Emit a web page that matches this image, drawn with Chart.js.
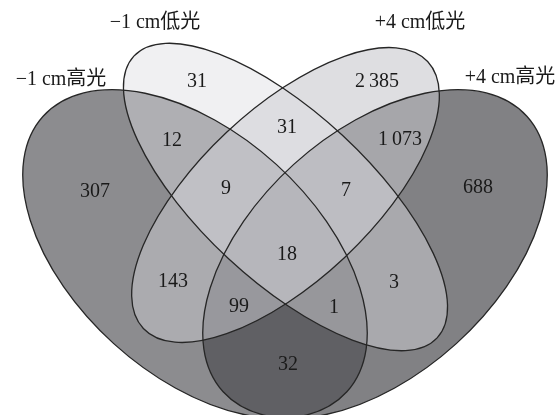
<!DOCTYPE html>
<html>
<head>
<meta charset="utf-8">
<script src="https://cdn.jsdelivr.net/npm/chart.js@4.4.1/dist/chart.umd.min.js"></script>
<style>
  html, body { margin: 0; padding: 0; background: #fff; }
  #venn { display: block; }
</style>
</head>
<body>
<canvas id="venn" width="559" height="415"></canvas>
<script>
// Set names, one per ellipse (A, B, C, D)
const SET_NAMES = ['−1 cm高光', '−1 cm低光', '+4 cm低光', '+4 cm高光'];

// Region counts; key = which sets the region is inside
const REGION_KEYS = ['A', 'B', 'C', 'D', 'AB', 'BC', 'CD', 'ABC', 'BCD', 'ABCD', 'AC', 'BD', 'ACD', 'ABD', 'AD'];
const REGION_COUNTS = [307, 31, 2385, 688, 12, 31, 1073, 9, 7, 18, 143, 3, 99, 1, 32];

// ---- layout (data units == pixels, axes hidden) ----
const ELLIPSES = {
    A: { cx: 195, cy: 254, a: 205, b: 121, rot: 42.2 },
    B: { cx: 285.5, cy: 197, a: 207, b: 84, rot: 42.9 },
    C: { cx: 285.5, cy: 195, a: 195, b: 86, rot: -43.2 },
    D: { cx: 375, cy: 254, a: 205, b: 121, rot: -42.2 }
};
const FILL_ORDER = ['A', 'D', 'C', 'B'];
const FILLS = {
    A: 'rgba(80, 80, 85, 0.66)',
    D: 'rgba(80, 80, 85, 0.72)',
    C: 'rgba(196, 196, 201, 0.56)',
    B: 'rgba(221, 221, 226, 0.44)'
};

const REGION_POS = {
    A: [95, 192], B: [197, 82], C: [377, 82], D: [478, 188],
    AB: [172, 141], BC: [287, 128], CD: [400, 140],
    ABC: [226, 189], BCD: [346, 191], ABCD: [287, 255],
    AC: [173, 282], BD: [394, 283], ACD: [239, 307], ABD: [334, 308],
    AD: [288, 365]
};
const NAME_POS = [[61, 80], [155, 23], [420, 23], [510, 78]];

function fmtCount(n) {
    const s = String(n);
    return n >= 1000 ? s.slice(0, s.length - 3) + '\u2009' + s.slice(-3) : s;
}

const vennPlugin = {
    id: 'vennShapes',
    beforeDatasetsDraw(chart) {
        const { ctx, scales: { x, y } } = chart;
        const path = (e) => {
            const cx = x.getPixelForValue(e.cx);
            const cy = y.getPixelForValue(e.cy);
            const rx = Math.abs(x.getPixelForValue(e.cx + e.a) - cx);
            const ry = Math.abs(x.getPixelForValue(e.cx + e.b) - cx);
            ctx.beginPath();
            ctx.ellipse(cx, cy, rx, ry, e.rot * Math.PI / 180, 0, Math.PI * 2);
        };
        ctx.save();
        FILL_ORDER.forEach(k => {
            path(ELLIPSES[k]);
            ctx.fillStyle = FILLS[k];
            ctx.fill();
        });
        ctx.strokeStyle = '#262626';
        ctx.lineWidth = 1.3;
        FILL_ORDER.forEach(k => {
            path(ELLIPSES[k]);
            ctx.stroke();
        });
        ctx.restore();
    },
    afterDatasetsDraw(chart) {
        const { ctx } = chart;
        ctx.save();
        ctx.textAlign = 'center';
        ctx.textBaseline = 'middle';
        ctx.fillStyle = '#1a1a1a';
        // region counts
        ctx.font = '20px "Liberation Serif", "Times New Roman", serif';
        chart.getDatasetMeta(0).data.forEach((pt, i) => {
            ctx.fillText(fmtCount(REGION_COUNTS[i]), pt.x, pt.y);
        });
        // set names
        ctx.font = '20px "Liberation Serif", "Noto Sans CJK SC", serif';
        chart.getDatasetMeta(1).data.forEach((pt, i) => {
            ctx.fillText(SET_NAMES[i], pt.x, pt.y);
        });
        ctx.restore();
    }
};

new Chart(document.getElementById('venn'), {
    type: 'scatter',
    data: {
        datasets: [{
            label: 'counts',
            data: REGION_KEYS.map(k => ({ x: REGION_POS[k][0], y: REGION_POS[k][1] })),
            pointRadius: 0
        }, {
            label: 'sets',
            data: NAME_POS.map(p => ({ x: p[0], y: p[1] })),
            pointRadius: 0
        }]
    },
    options: {
        responsive: false,
        animation: false,
        devicePixelRatio: 1,
        layout: { padding: 0 },
        scales: {
            x: { type: 'linear', min: 0, max: 559, display: false },
            y: { type: 'linear', min: 0, max: 415, reverse: true, display: false }
        },
        plugins: {
            legend: { display: false },
            tooltip: { enabled: false }
        }
    },
    plugins: [vennPlugin]
});
</script>
</body>
</html>
